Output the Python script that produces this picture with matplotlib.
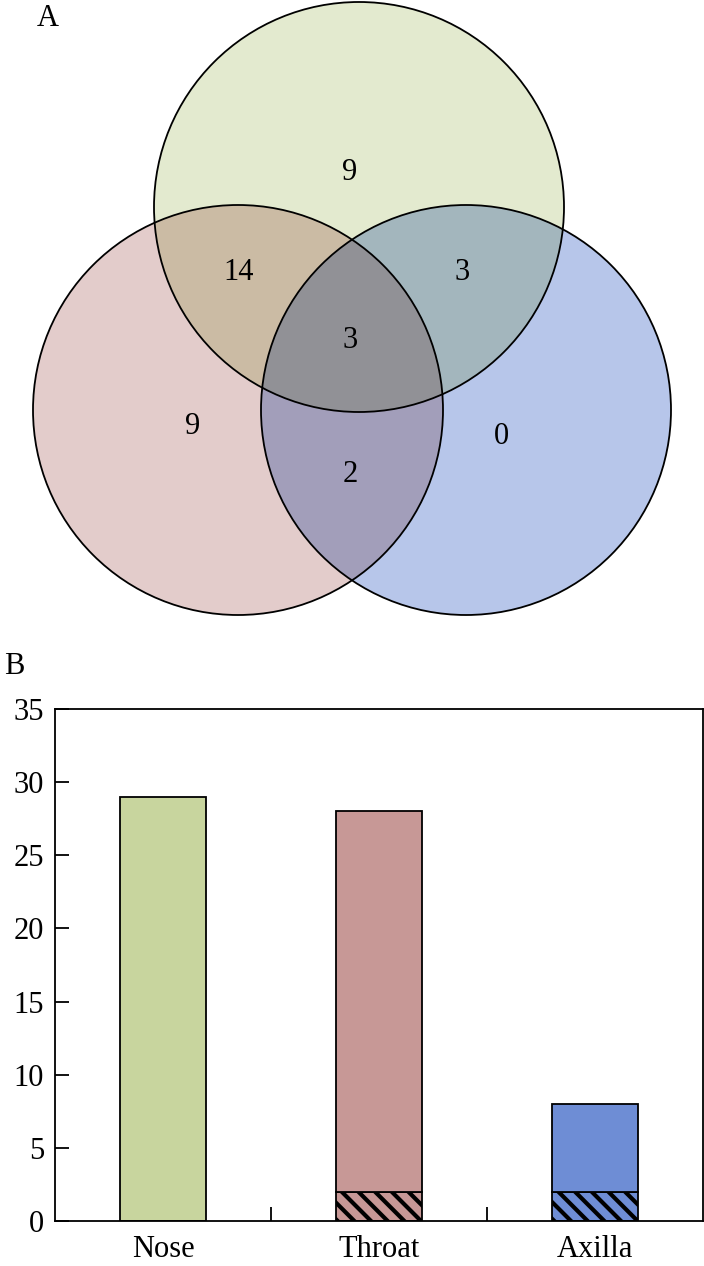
import numpy as np
import matplotlib
matplotlib.use("Agg")
import matplotlib.pyplot as plt
from matplotlib.patches import Circle, Polygon
from itertools import combinations

plt.rcParams['font.family'] = ['Liberation Serif', 'DejaVu Serif']
plt.rcParams['font.size'] = 22
plt.rcParams['hatch.linewidth'] = 3.0

# data
sites = ["Nose", "Throat", "Axilla"]
totals = [29, 28, 8]
hatched = [0, 2, 2]
site_colors = ["#C8D59E", "#C79896", "#6E8DD5"]

# venn region counts, keyed by which sites (0=Nose, 1=Throat, 2=Axilla)
region_sets = [(0,), (1,), (2,), (0, 1), (0, 2), (1, 2), (0, 1, 2)]
region_counts = [9, 9, 0, 14, 3, 2, 3]

# layout (pixel coords of the top panel)
radius = 205
centers = [(359, 207), (238, 410), (466, 410)]
label_pos = {(0,): (350, 173), (1,): (193, 427), (2,): (501, 437),
             (0, 1): (239, 272), (0, 2): (462, 273), (1, 2): (350, 475),
             (0, 1, 2): (350, 340)}


def light(c):
    rgb = np.array(matplotlib.colors.to_rgb(c))
    return 0.5 * rgb + 0.5


def region(idx):
    cs = [centers[i] for i in idx]
    pts = []
    t = np.linspace(0, 2 * np.pi, 1440, endpoint=False)
    for cx, cy in cs:
        p = np.column_stack([cx + radius * np.cos(t), cy + radius * np.sin(t)])
        ok = np.all([np.hypot(p[:, 0] - ox, p[:, 1] - oy) <= radius + 1e-6
                     for ox, oy in cs], axis=0)
        pts.append(p[ok])
    pts = np.vstack(pts)
    c = pts.mean(axis=0)
    order = np.argsort(np.arctan2(pts[:, 1] - c[1], pts[:, 0] - c[0]))
    return pts[order]


fig = plt.figure(figsize=(7.04, 12.66), dpi=100)

# ---- panel A: venn
ax1 = fig.add_axes([0, 1 - 640 / 1266, 1, 640 / 1266])
ax1.set_xlim(0, 704)
ax1.set_ylim(640, 0)
ax1.axis("off")

for k in (1, 2, 3):
    for idx in combinations(range(3), k):
        col = np.prod([light(site_colors[i]) for i in idx], axis=0)
        ax1.add_patch(Polygon(region(idx), closed=True, facecolor=col,
                              edgecolor="none"))
for cx, cy in centers:
    ax1.add_patch(Circle((cx, cy), radius, fill=False, edgecolor="black", lw=1.3))

for s, n in zip(region_sets, region_counts):
    x, y = label_pos[s]
    ax1.text(x, y, str(n), ha="center", va="center")

fig.text(48 / 704, 1 - 18 / 1266, "A", ha="center", va="center")
fig.text(14 / 704, 1 - 667 / 1266, "B", ha="center", va="center")

# ---- panel B: bars
ax2 = fig.add_axes([55 / 704, 45 / 1266, 648 / 704, 512 / 1266])
x = np.arange(len(sites))
w = 0.4
for i in range(len(sites)):
    if hatched[i] > 0:
        ax2.bar(x[i], hatched[i], w, color=site_colors[i], edgecolor="black",
                lw=1.3, hatch="\\\\")
    ax2.bar(x[i], totals[i] - hatched[i], w, bottom=hatched[i],
            color=site_colors[i], edgecolor="black", lw=1.3)

ax2.set_xlim(-0.5, 2.5)
ax2.set_ylim(0, 35)
ax2.set_yticks(range(0, 36, 5))
ax2.set_xticks(x)
ax2.set_xticklabels(sites)
ax2.set_xticks([0.5, 1.5], minor=True)
ax2.tick_params(axis="x", which="major", length=0, pad=10)
ax2.tick_params(axis="x", which="minor", direction="in", length=10, width=1.3)
ax2.tick_params(axis="y", direction="in", length=10, width=1.3, pad=8)
for sp in ax2.spines.values():
    sp.set_linewidth(1.3)

fig.savefig("out.png", dpi=100)
